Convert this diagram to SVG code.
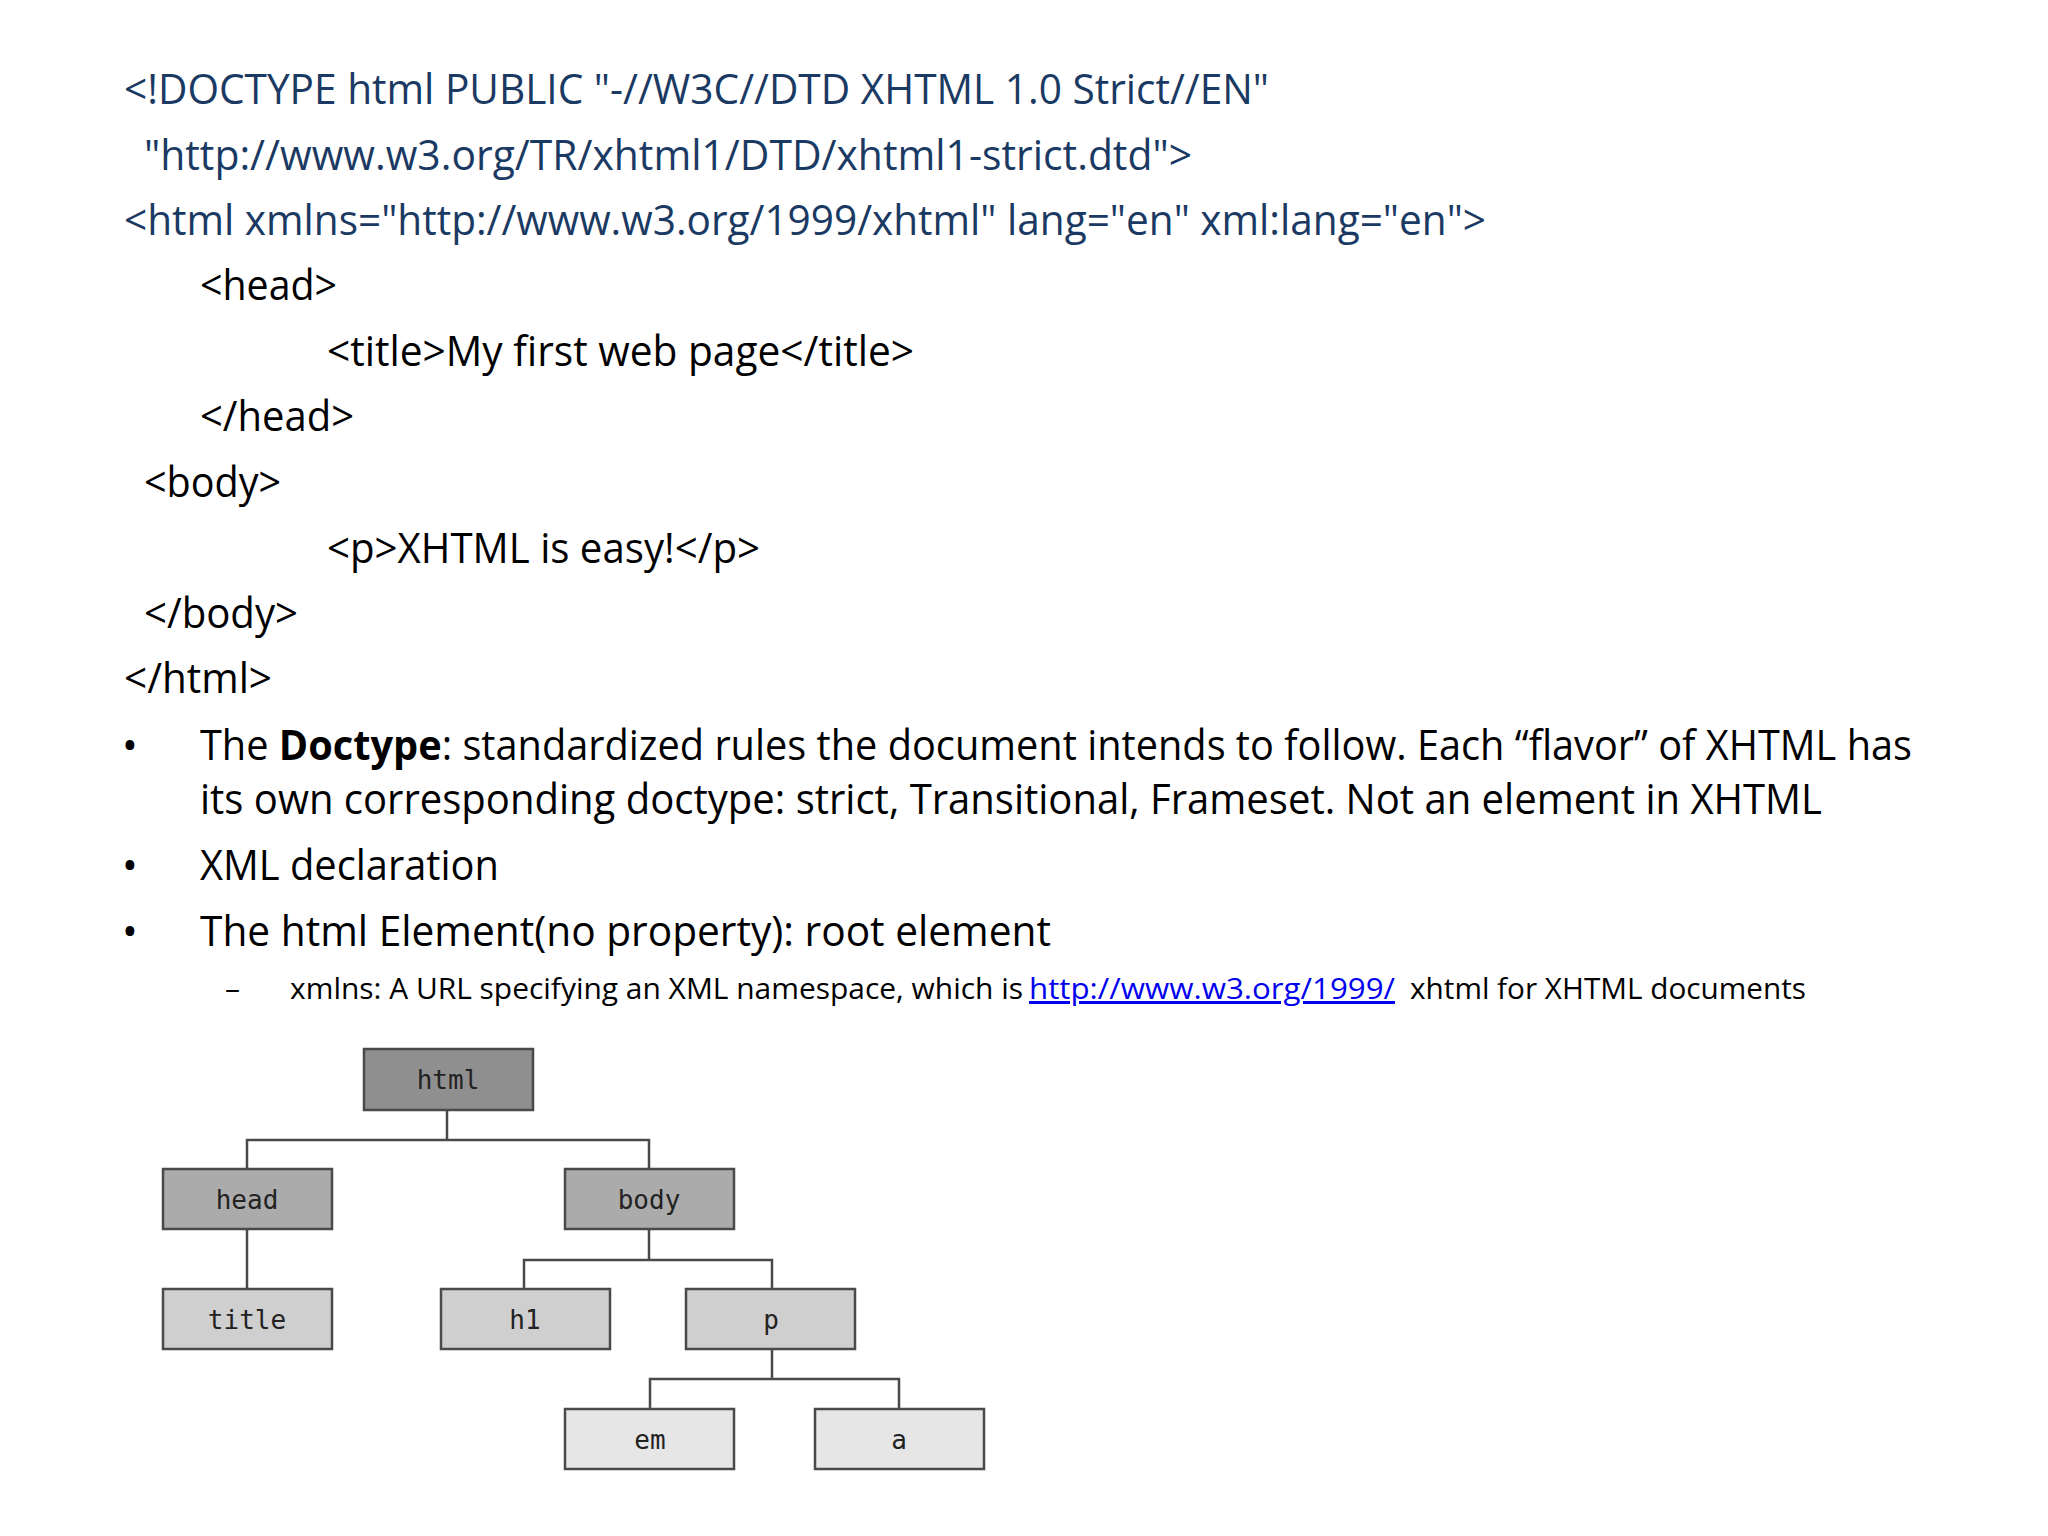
<svg xmlns="http://www.w3.org/2000/svg" width="2048" height="1536" viewBox="0 0 2048 1536">
<style>
.c{font-family:"Open Sans","Liberation Sans",sans-serif;font-size:42px;fill:#000}
.n{fill:#1b3a63}
.s{font-family:"Open Sans","Liberation Sans",sans-serif;font-size:30px;fill:#000}
.box{stroke:#4a4a4a;stroke-width:2.5}
.lb{font-family:"DejaVu Sans Mono",monospace;font-size:26px;fill:#222;text-anchor:middle;dominant-baseline:central}
.ln{stroke:#4a4a4a;stroke-width:2.5;fill:none}
</style>
<rect width="2048" height="1536" fill="#fff"/>
<g id="code">
<text class="c n" x="124" y="104" textLength="1145" lengthAdjust="spacingAndGlyphs">&lt;!DOCTYPE html PUBLIC "-//W3C//DTD XHTML 1.0 Strict//EN"</text>
<text class="c n" x="144" y="170" textLength="1048" lengthAdjust="spacingAndGlyphs">"http://www.w3.org/TR/xhtml1/DTD/xhtml1-strict.dtd"&gt;</text>
<text class="c n" x="124" y="235" textLength="1362" lengthAdjust="spacingAndGlyphs">&lt;html xmlns="http://www.w3.org/1999/xhtml" lang="en" xml:lang="en"&gt;</text>
<text class="c" x="200" y="300" textLength="137" lengthAdjust="spacingAndGlyphs">&lt;head&gt;</text>
<text class="c" x="327" y="366" textLength="587" lengthAdjust="spacingAndGlyphs">&lt;title&gt;My first web page&lt;/title&gt;</text>
<text class="c" x="200" y="431" textLength="154" lengthAdjust="spacingAndGlyphs">&lt;/head&gt;</text>
<text class="c" x="144" y="497" textLength="137" lengthAdjust="spacingAndGlyphs">&lt;body&gt;</text>
<text class="c" x="327" y="563" textLength="433" lengthAdjust="spacingAndGlyphs">&lt;p&gt;XHTML is easy!&lt;/p&gt;</text>
<text class="c" x="144" y="628" textLength="154" lengthAdjust="spacingAndGlyphs">&lt;/body&gt;</text>
<text class="c" x="124" y="693" textLength="148" lengthAdjust="spacingAndGlyphs">&lt;/html&gt;</text>
</g>
<g id="bullets">
<text class="c" x="122" y="760">•</text>
<text class="c" x="200" y="760" textLength="1712" lengthAdjust="spacingAndGlyphs">The <tspan font-weight="bold">Doctype</tspan>: standardized rules the document intends to follow. Each “flavor” of XHTML has</text>
<text class="c" x="200" y="814" textLength="1622" lengthAdjust="spacingAndGlyphs">its own corresponding doctype: strict, Transitional, Frameset. Not  an element in XHTML</text>
<text class="c" x="122" y="880">•</text>
<text class="c" x="200" y="880" textLength="299" lengthAdjust="spacingAndGlyphs">XML declaration</text>
<text class="c" x="122" y="946">•</text>
<text class="c" x="200" y="946" textLength="851" lengthAdjust="spacingAndGlyphs">The html Element(no property):  root element</text>
<text class="s" x="225" y="999">–</text>
<text class="s" x="290" y="999" textLength="733" lengthAdjust="spacingAndGlyphs">xmlns: A URL specifying an XML namespace, which is</text>
<text class="s" x="1029" y="999" textLength="366" lengthAdjust="spacingAndGlyphs" style="fill:#0000ee;text-decoration:underline">http://www.w3.org/1999/</text>
<text class="s" x="1410" y="999" textLength="396" lengthAdjust="spacingAndGlyphs">xhtml for XHTML documents</text>
</g>
<g id="connectors">
<path class="ln" d="M447 1110V1140M247 1169V1140H649V1169"/>
<path class="ln" d="M247 1229V1289"/>
<path class="ln" d="M649 1229V1260M524 1289V1260H772V1289"/>
<path class="ln" d="M772 1349V1379M650 1409V1379H899V1409"/>
</g>
<g id="n-html"><rect class="box" x="364" y="1049" width="169" height="61" fill="#8f8f8f"/><text class="lb" x="448" y="1080">html</text></g>
<g id="n-head"><rect class="box" x="163" y="1169" width="169" height="60" fill="#ababab"/><text class="lb" x="247" y="1200">head</text></g>
<g id="n-body"><rect class="box" x="565" y="1169" width="169" height="60" fill="#ababab"/><text class="lb" x="649" y="1200">body</text></g>
<g id="n-title"><rect class="box" x="163" y="1289" width="169" height="60" fill="#cfcfcf"/><text class="lb" x="247" y="1320">title</text></g>
<g id="n-h1"><rect class="box" x="441" y="1289" width="169" height="60" fill="#cfcfcf"/><text class="lb" x="525" y="1320">h1</text></g>
<g id="n-p"><rect class="box" x="686" y="1289" width="169" height="60" fill="#cfcfcf"/><text class="lb" x="771" y="1320">p</text></g>
<g id="n-em"><rect class="box" x="565" y="1409" width="169" height="60" fill="#e6e6e6"/><text class="lb" x="650" y="1440">em</text></g>
<g id="n-a"><rect class="box" x="815" y="1409" width="169" height="60" fill="#e6e6e6"/><text class="lb" x="899" y="1440">a</text></g>
</svg>
